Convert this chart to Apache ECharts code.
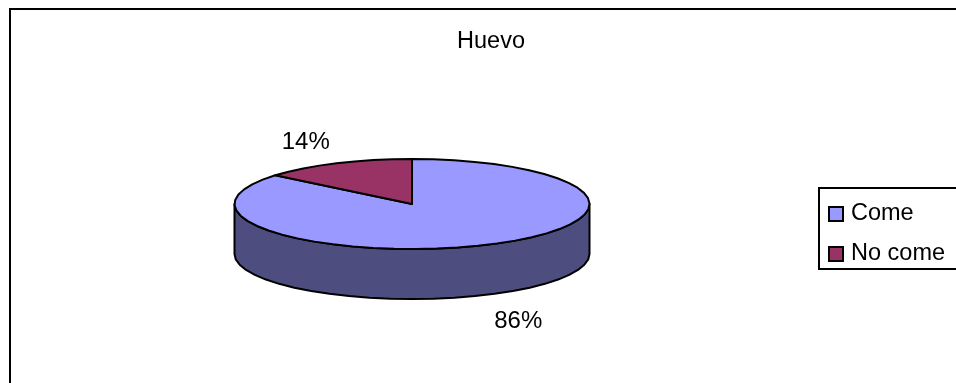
<!DOCTYPE html>
<html><head><meta charset="utf-8">
<style>html,body{margin:0;padding:0;background:#fff}#c{width:956px;height:383px}</style>
<script src="https://cdn.jsdelivr.net/npm/echarts@6/dist/echarts.min.js"></script>
</head><body><div id="c"></div>
<script>
const titleText = 'Huevo';
const categories = ['Come', 'No come'];
const values = [86, 14];
const colors = ['#9999FF', '#993366'];
const sideColor = '#4D4D80';
const FONT = '"Liberation Sans", Arial, sans-serif';
const FS = 23.5;
const CX = 412, CY = 204, RX = 177.5, RY = 45, DEPTH = 50;

const total = values.reduce((a, b) => a + b, 0);
const pt = (deg, dy) => {
  const r = deg * Math.PI / 180;
  return [CX + RX * Math.sin(r), CY - RY * Math.cos(r) + (dy || 0)];
};
function arc(from, to, dy) {
  const out = [];
  const n = Math.max(2, Math.ceil((to - from) / 7));
  for (let i = 0; i <= n; i++) out.push(pt(from + (to - from) * i / n, dy));
  return out;
}
function renderSlice(idx) {
  return function () {
    const start = values.slice(0, idx).reduce((a, b) => a + b, 0) / total * 360;
    const end = start + values[idx] / total * 360;
    const stroke = { stroke: '#000', lineWidth: 2, lineJoin: 'round' };
    const children = [];
    const a = Math.max(start, 90), b = Math.min(end, 270);
    if (b > a) {
      children.push({
        type: 'polygon',
        shape: { points: arc(a, b, 0).concat(arc(a, b, DEPTH).reverse()) },
        style: Object.assign({ fill: sideColor }, stroke)
      });
    }
    children.push({
      type: 'polygon',
      shape: { points: [[CX, CY]].concat(arc(start, end, 0)) },
      style: Object.assign({ fill: colors[idx] }, stroke)
    });
    const mid = (start + end) / 2;
    const midRad = mid * Math.PI / 180;
    const front = mid > 90 && mid < 270;
    const p = pt(mid, front ? DEPTH : 0);
    children.push({
      type: 'text',
      x: p[0] + Math.sin(midRad) * 72,
      y: p[1] - Math.cos(midRad) * (front ? 29 : 23),
      style: {
        text: Math.round(values[idx] / total * 100) + '%',
        font: '24px ' + FONT, fill: '#000',
        textAlign: 'center', textVerticalAlign: 'middle'
      }
    });
    return { type: 'group', children };
  };
}
const chart = echarts.init(document.getElementById('c'), null, { renderer: 'canvas' });
chart.setOption({
  animation: false,
  backgroundColor: '#fff',
  title: {
    text: titleText, left: 486, top: 25, textAlign: 'center',
    textStyle: { fontFamily: FONT, fontSize: FS, fontWeight: 'normal', color: '#000' }
  },
  legend: {
    orient: 'vertical', left: 828, top: 197, padding: 0,
    itemWidth: 14, itemHeight: 14, itemGap: 6, align: 'left',
    icon: 'rect', selectedMode: false,
    data: categories,
    itemStyle: { borderColor: '#000', borderWidth: 2 },
    textStyle: { fontFamily: FONT, fontSize: FS, color: '#000', lineHeight: 28, padding: [0, 0, 6, 3] }
  },
  graphic: [
    { type: 'polyline', silent: true, shape: { points: [[10, 383], [10, 9], [956, 9]] }, style: { stroke: '#000', lineWidth: 2, fill: null } },
    { type: 'polyline', silent: true, shape: { points: [[956, 188], [819, 188], [819, 269], [956, 269]] }, style: { stroke: '#000', lineWidth: 2, fill: null } }
  ],
  series: categories.map((name, i) => ({
    type: 'custom', name, coordinateSystem: 'none',
    itemStyle: { color: colors[i] },
    data: [values[i]],
    renderItem: renderSlice(i),
    silent: true
  }))
});
</script></body></html>
